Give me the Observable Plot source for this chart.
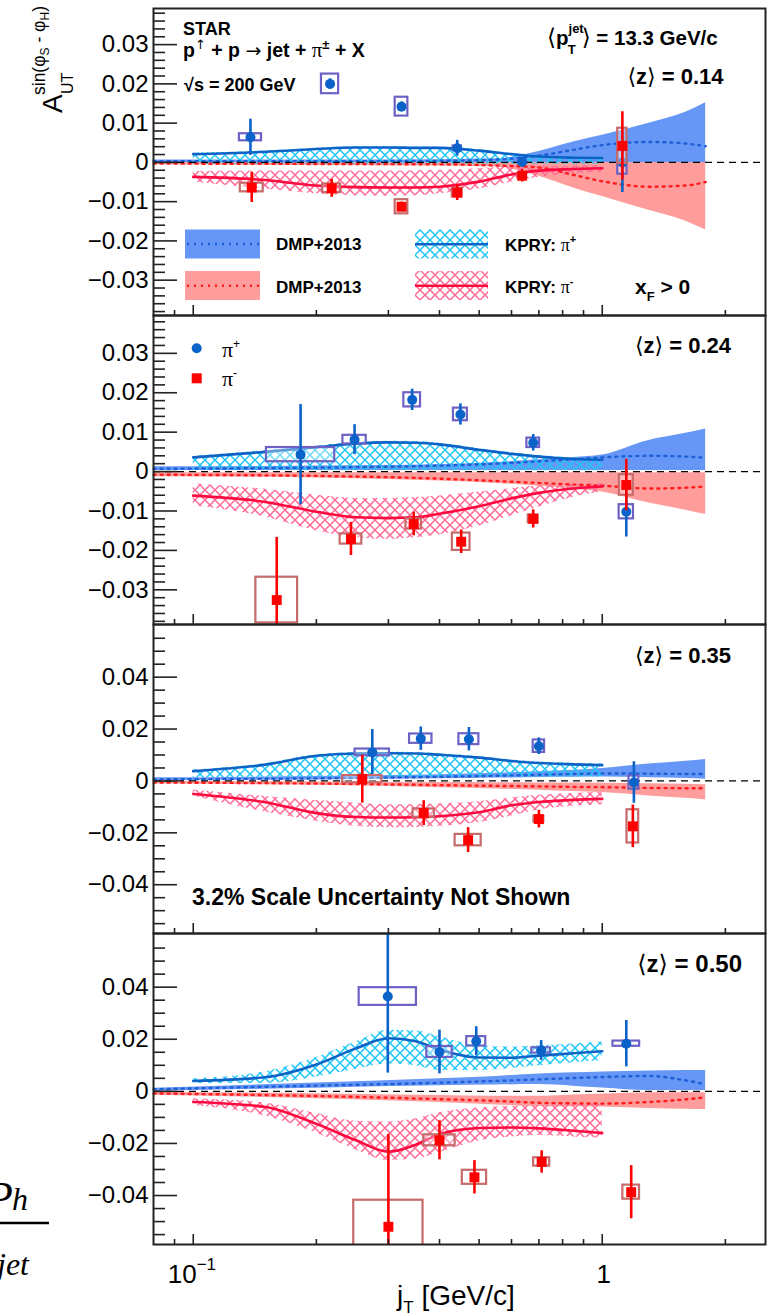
<!DOCTYPE html>
<html>
<head>
<meta charset="utf-8">
<script src="https://cdn.jsdelivr.net/npm/d3@7"></script>
<script src="https://cdn.jsdelivr.net/npm/@observablehq/plot@0.6"></script>
<style>
  body { margin: 0; background: #fff; }
  #fig { position: relative; width: 775px; height: 1316px; overflow: hidden; background: #fff; }
  #fig svg.panel { position: absolute; left: 0; }
  #fig text { white-space: pre; }
</style>
</head>
<body>
<div id="fig"></div>
<script>
// ---------- shared sampling grids for the model curves (j_T in GeV/c) ----------
const kpryJt = [0.1, 0.15, 0.2, 0.25, 0.3, 0.35, 0.4, 0.5, 0.6, 0.7, 0.85, 1.0];
const dmpJt  = [0.08, 0.2, 0.4, 0.55, 0.7, 0.85, 1.0, 1.3, 1.6, 1.79];

// ---------- axis ticks ----------
const yTicksSmall = [-0.03, -0.02, -0.01, 0, 0.01, 0.02, 0.03];
const yTickLabelsSmall = ["\u22120.03", "\u22120.02", "\u22120.01", "0", "0.01", "0.02", "0.03"];
const yTicksLarge = [-0.04, -0.02, 0, 0.02, 0.04];
const yTickLabelsLarge = ["\u22120.04", "\u22120.02", "0", "0.02", "0.04"];
const xTicksMajor = [0.1, 1];
const xTicksMinor = [0.09, 0.2, 0.3, 0.4, 0.5, 0.6, 0.7, 0.8, 0.9, 2];

// ================= <z> = 0.14 =================
const z014PlusJt    = [0.138, 0.216, 0.323, 0.442, 0.637, 1.12];
const z014PlusA     = [0.0064, 0.0200, 0.0142, 0.0036, 0.0001, 0.0000];
const z014PlusStat  = [0.0046, 0.0013, 0.0012, 0.0020, 0.0012, 0.0077];
const z014PlusSys   = [0.0009, 0.0025, 0.0024, 0.0006, 0.0005, 0.0030];
const z014PlusJtSys = [0.027, 0.021, 0.0155, 0.010, 0.008, 0.0114];   // log10 half-width
const z014MinusJt    = [0.139, 0.218, 0.323, 0.442, 0.637, 1.12];
const z014MinusA     = [-0.0064, -0.0066, -0.0113, -0.0077, -0.0034, 0.0042];
const z014MinusStat  = [0.0038, 0.0023, 0.0012, 0.0020, 0.0016, 0.0087];
const z014MinusSys   = [0.0011, 0.0011, 0.0018, 0.0011, 0.0006, 0.0045];
const z014MinusJtSys = [0.028, 0.022, 0.0155, 0.012, 0.010, 0.0114];
const z014KpryPlusMid  = [0.0021, 0.0027, 0.0034, 0.0038, 0.0038, 0.0037, 0.0037, 0.0030, 0.0021, 0.0015, 0.0012, 0.0011];
const z014KpryPlusHi   = [0.0023, 0.0029, 0.0036, 0.0040, 0.0040, 0.0039, 0.0039, 0.0032, 0.0023, 0.0017, 0.0014, 0.0013];
const z014KpryPlusLo   = [-0.0005, -0.0005, -0.0005, -0.0005, -0.0005, -0.0005, -0.0005, -0.0005, -0.0005, -0.0005, -0.0005, -0.0005];
const z014KpryMinusMid = [-0.0037, -0.0045, -0.0059, -0.0063, -0.0064, -0.0064, -0.0062, -0.0049, -0.0031, -0.0021, -0.0017, -0.0015];
const z014KpryMinusHi  = [-0.0023, -0.0022, -0.0022, -0.0022, -0.0022, -0.0021, -0.0020, -0.0016, -0.0011, -0.0010, -0.0009, -0.0008];
const z014KpryMinusLo  = [-0.0050, -0.0068, -0.0080, -0.0085, -0.0086, -0.0085, -0.0080, -0.0068, -0.0050, -0.0038, -0.0030, -0.0025];
const z014DmpPlusLo   = [0, 0, 0, 0, 0, 0, 0, 0, 0, 0];
const z014DmpPlusMid  = [0.0003, 0.0003, 0.0004, 0.0007, 0.0017, 0.0032, 0.0044, 0.0052, 0.0048, 0.0041];
const z014DmpPlusHi   = [0.0006, 0.0006, 0.0007, 0.0009, 0.0028, 0.0052, 0.0069, 0.0100, 0.0128, 0.0152];
const z014DmpMinusHi  = [0, 0, 0, 0, 0, 0, 0, 0, 0, 0];
const z014DmpMinusMid = [-0.0003, -0.0004, -0.0005, -0.0008, -0.0013, -0.0032, -0.0048, -0.0062, -0.0059, -0.0050];
const z014DmpMinusLo  = [-0.0006, -0.0008, -0.0009, -0.0012, -0.0035, -0.0065, -0.0087, -0.0122, -0.0150, -0.0172];

// ================= <z> = 0.24 =================
const z024PlusJt    = [0.183, 0.248, 0.343, 0.450, 0.678, 1.145];
const z024PlusA     = [0.0043, 0.0081, 0.0182, 0.0145, 0.0073, -0.0102];
const z024PlusStat  = [0.0127, 0.0038, 0.0027, 0.0027, 0.0021, 0.0064];
const z024PlusSys   = [0.0018, 0.0011, 0.0018, 0.0016, 0.0012, 0.0018];
const z024PlusJtSys = [0.0835, 0.0285, 0.0204, 0.017, 0.0155, 0.0175];
const z024MinusJt    = [0.160, 0.243, 0.346, 0.452, 0.678, 1.145];
const z024MinusA     = [-0.0326, -0.0171, -0.0133, -0.0178, -0.0120, -0.0034];
const z024MinusStat  = [0.0159, 0.0042, 0.0030, 0.0030, 0.0023, 0.0065];
const z024MinusSys   = [0.0058, 0.0013, 0.0013, 0.0022, 0.0010, 0.0026];
const z024MinusJtSys = [0.051, 0.0265, 0.019, 0.0216, 0.012, 0.017];
const z024KpryPlusMid  = [0.0036, 0.0050, 0.0062, 0.0071, 0.0074, 0.0073, 0.0069, 0.0055, 0.0045, 0.0038, 0.0032, 0.0030];
const z024KpryPlusHi   = [0.0039, 0.0053, 0.0065, 0.0074, 0.0077, 0.0076, 0.0072, 0.0058, 0.0048, 0.0041, 0.0035, 0.0033];
const z024KpryPlusLo   = [0.0003, 0.0003, 0.0003, 0.0003, 0.0003, 0.0003, 0.0003, 0.0003, 0.0003, 0.0003, 0.0003, 0.0003];
const z024KpryMinusMid = [-0.0061, -0.0077, -0.0102, -0.0116, -0.0118, -0.0116, -0.0107, -0.0088, -0.0068, -0.0054, -0.0043, -0.0038];
const z024KpryMinusHi  = [-0.0031, -0.0045, -0.0060, -0.0068, -0.0068, -0.0066, -0.0062, -0.0052, -0.0043, -0.0036, -0.0032, -0.0030];
const z024KpryMinusLo  = [-0.0086, -0.0115, -0.0150, -0.0168, -0.0172, -0.0168, -0.0160, -0.0138, -0.0112, -0.0090, -0.0065, -0.0052];
const z024DmpPlusLo   = [0.0003, 0.0003, 0.0003, 0.0003, 0.0003, 0.0003, 0.0003, 0.0003, 0.0003, 0.0003];
const z024DmpPlusMid  = [0.0007, 0.0010, 0.0015, 0.0020, 0.0026, 0.0031, 0.0036, 0.0040, 0.0038, 0.0035];
const z024DmpPlusHi   = [0.0012, 0.0014, 0.0018, 0.0023, 0.0030, 0.0036, 0.0042, 0.0079, 0.0097, 0.0108];
const z024DmpMinusHi  = [-0.0003, -0.0003, -0.0003, -0.0003, -0.0003, -0.0003, -0.0003, -0.0003, -0.0003, -0.0003];
const z024DmpMinusMid = [-0.0008, -0.0011, -0.0018, -0.0024, -0.0029, -0.0033, -0.0036, -0.0043, -0.0041, -0.0038];
const z024DmpMinusLo  = [-0.0013, -0.0016, -0.0024, -0.0030, -0.0037, -0.0044, -0.0052, -0.0080, -0.0098, -0.0109];

// ================= <z> = 0.35 =================
const z035PlusJt    = [0.274, 0.360, 0.472, 0.700, 1.195];
const z035PlusA     = [0.0110, 0.0163, 0.0161, 0.0134, -0.0006];
const z035PlusStat  = [0.0088, 0.0045, 0.0045, 0.0032, 0.0080];
const z035PlusSys   = [0.0013, 0.0018, 0.0021, 0.0024, 0.0026];
const z035PlusJtSys = [0.042, 0.0274, 0.0244, 0.0139, 0.012];
const z035MinusJt    = [0.259, 0.366, 0.470, 0.700, 1.188];
const z035MinusA     = [0.0007, -0.0124, -0.0228, -0.0147, -0.0175];
const z035MinusStat  = [0.0092, 0.0048, 0.0048, 0.0034, 0.0082];
const z035MinusSys   = [0.0014, 0.0016, 0.0022, 0.0012, 0.0064];
const z035MinusJtSys = [0.048, 0.026, 0.0318, 0.012, 0.0143];
const z035KpryPlusMid  = [0.0038, 0.0063, 0.0097, 0.0106, 0.0107, 0.0106, 0.0101, 0.0090, 0.0077, 0.0069, 0.0064, 0.0061];
const z035KpryPlusHi   = [0.0042, 0.0067, 0.0101, 0.0110, 0.0111, 0.0110, 0.0105, 0.0094, 0.0081, 0.0073, 0.0068, 0.0065];
const z035KpryPlusLo   = [0.0012, 0.0014, 0.0015, 0.0015, 0.0015, 0.0015, 0.0015, 0.0015, 0.0015, 0.0015, 0.0015, 0.0015];
const z035KpryMinusMid = [-0.0050, -0.0082, -0.0124, -0.0139, -0.0141, -0.0140, -0.0136, -0.0121, -0.0094, -0.0081, -0.0073, -0.0069];
const z035KpryMinusHi  = [-0.0035, -0.0060, -0.0075, -0.0085, -0.0092, -0.0091, -0.0088, -0.0080, -0.0066, -0.0055, -0.0048, -0.0044];
const z035KpryMinusLo  = [-0.0058, -0.0120, -0.0155, -0.0175, -0.0180, -0.0179, -0.0175, -0.0160, -0.0135, -0.0112, -0.0098, -0.0092];
const z035DmpPlusLo   = [0.0002, 0.0004, 0.0008, 0.0011, 0.0013, 0.0014, 0.0015, 0.0012, 0.0009, 0.0007];
const z035DmpPlusMid  = [0.0006, 0.0010, 0.0016, 0.0020, 0.0024, 0.0027, 0.0029, 0.0028, 0.0027, 0.0027];
const z035DmpPlusHi   = [0.0012, 0.0017, 0.0024, 0.0030, 0.0035, 0.0041, 0.0048, 0.0065, 0.0076, 0.0083];
const z035DmpMinusHi  = [-0.0002, -0.0004, -0.0006, -0.0007, -0.0008, -0.0008, -0.0009, -0.0011, -0.0013, -0.0015];
const z035DmpMinusMid = [-0.0006, -0.0010, -0.0016, -0.0019, -0.0021, -0.0023, -0.0024, -0.0027, -0.0028, -0.0028];
const z035DmpMinusLo  = [-0.0012, -0.0017, -0.0026, -0.0031, -0.0036, -0.0041, -0.0045, -0.0058, -0.0067, -0.0073];

// ================= <z> = 0.50 =================
const z050PlusJt    = [0.299, 0.400, 0.492, 0.709, 1.145];
const z050PlusA     = [0.0364, 0.0151, 0.0192, 0.0157, 0.0183];
const z050PlusStat  = [0.0294, 0.0084, 0.0056, 0.0038, 0.0089];
const z050PlusSys   = [0.0034, 0.0021, 0.0018, 0.0010, 0.0010];
const z050PlusJtSys = [0.070, 0.031, 0.0232, 0.0228, 0.0326];
const z050MinusJt    = [0.300, 0.400, 0.487, 0.711, 1.177];
const z050MinusA     = [-0.0520, -0.0188, -0.0330, -0.0271, -0.0387];
const z050MinusStat  = [0.0355, 0.0075, 0.0064, 0.0043, 0.0102];
const z050MinusSys   = [0.0102, 0.0021, 0.0027, 0.0016, 0.0027];
const z050MinusJtSys = [0.0847, 0.0383, 0.0297, 0.0196, 0.0204];
const z050KpryPlusMid  = [0.0040, 0.0054, 0.0103, 0.0165, 0.0204, 0.0192, 0.0160, 0.0130, 0.0129, 0.0137, 0.0146, 0.0154];
const z050KpryPlusHi   = [0.0048, 0.0075, 0.0130, 0.0190, 0.0235, 0.0232, 0.0210, 0.0175, 0.0170, 0.0175, 0.0182, 0.0189];
const z050KpryPlusLo   = [0.0030, 0.0030, 0.0055, 0.0085, 0.0105, 0.0098, 0.0080, 0.0080, 0.0088, 0.0098, 0.0110, 0.0117];
const z050KpryMinusMid = [-0.0041, -0.0060, -0.0125, -0.0188, -0.0232, -0.0205, -0.0165, -0.0141, -0.0139, -0.0142, -0.0151, -0.0160];
const z050KpryMinusHi  = [-0.0028, -0.0045, -0.0085, -0.0115, -0.0118, -0.0105, -0.0082, -0.0064, -0.0058, -0.0055, -0.0052, -0.0050];
const z050KpryMinusLo  = [-0.0054, -0.0095, -0.0160, -0.0225, -0.0265, -0.0260, -0.0235, -0.0190, -0.0175, -0.0170, -0.0175, -0.0180];
const z050DmpPlusLo   = [0.0000, 0.0012, 0.0021, 0.0024, 0.0026, 0.0020, 0.0013, 0.0003, 0.0003, 0.0003];
const z050DmpPlusMid  = [0.0008, 0.0022, 0.0033, 0.0040, 0.0046, 0.0051, 0.0055, 0.0059, 0.0042, 0.0027];
const z050DmpPlusHi   = [0.0012, 0.0032, 0.0048, 0.0057, 0.0067, 0.0071, 0.0074, 0.0078, 0.0080, 0.0080];
const z050DmpMinusHi  = [-0.0003, -0.0009, -0.0016, -0.0019, -0.0019, -0.0014, -0.0010, -0.0005, -0.0005, -0.0005];
const z050DmpMinusMid = [-0.0008, -0.0018, -0.0030, -0.0037, -0.0044, -0.0046, -0.0047, -0.0041, -0.0031, -0.0023];
const z050DmpMinusLo  = [-0.0015, -0.0028, -0.0043, -0.0052, -0.0058, -0.0059, -0.0060, -0.0066, -0.0069, -0.0070];

// ---------- styling ----------
const SANS = "'Liberation Sans', Arial, Helvetica, sans-serif";
const SERIF = "'Liberation Serif', 'DejaVu Serif', serif";
const SYMB = "'DejaVu Sans', sans-serif";
const C = {
  plus: "#0b63c9", minus: "#ff0000",
  plusBox: "#6c62c6", minusBox: "#c66a6a",
  dmpBlueFill: "#6697f6", dmpRedFill: "#ff9d9d",
  dmpBlueLine: "#1d5fd6", dmpRedLine: "#ff1c1c",
  kpryPlusLine: "#0d62c6", kpryMinusLine: "#ff0a40",
  hatchCyan: "#1fc6f5", hatchPink: "#ff6a96", frame: "#222"
};
const DOTS = "2,5";
const X_DOMAIN = [0.07995, 2.507];

// ---------- helpers ----------
const band = (xs, lo, mid, hi) => xs.map((x, i) => ({x, lo: lo[i], mid: mid[i], hi: hi[i]}));
const points = (jt, a, stat, sys, jtSys) => jt.map((x, i) => ({
  x, a: a[i], e1: a[i] - stat[i], e2: a[i] + stat[i],
  s1: a[i] - sys[i], s2: a[i] + sys[i],
  x1: x / 10 ** jtSys[i], x2: x * 10 ** jtSys[i]
}));
const minorSmall = d3.range(-19, 20).filter(i => i % 5 !== 0).map(i => i * 0.002);
const minorLarge = d3.range(-11, 12).filter(i => i % 4 !== 0).map(i => i * 0.005);

const fig = d3.select("#fig");

// crosshatch fills for the KPRY bands
const defs = fig.append("svg").attr("width", 0).attr("height", 0)
  .style("position", "absolute").append("defs");
function hatch(id, color) {
  const p = defs.append("pattern").attr("id", id).attr("patternUnits", "userSpaceOnUse")
    .attr("width", 10).attr("height", 10);
  p.append("path").attr("d", "M-1,-1L11,11M11,-1L-1,11")
    .attr("stroke", color).attr("stroke-width", 1.5).attr("fill", "none");
}
hatch("hatchCyan", C.hatchCyan);
hatch("hatchPink", C.hatchPink);

function label(svg, x, y, spans, attrs = {}) {
  const t = d3.select(svg).append("text").attr("x", x).attr("y", y)
    .attr("text-anchor", "start")
    .attr("font-family", SANS).attr("font-weight", "bold").attr("font-size", 18)
    .attr("fill", "#000").style("white-space", "pre");
  for (const [k, v] of Object.entries(attrs)) t.attr(k, v);
  for (const s of spans) {
    const ts = t.append("tspan").text(s.t);
    for (const k of ["dx", "dy", "x", "y"]) if (s[k] != null) ts.attr(k, s[k]);
    if (s.size) ts.attr("font-size", s.size);
    if (s.family) ts.attr("font-family", s.family);
    if (s.weight) ts.attr("font-weight", s.weight);
    if (s.style) ts.attr("font-style", s.style);
  }
  return t;
}

const panels = [
  {top: 0, height: 315, mt: 8, mb: 0, yDomain: [-0.039, 0.0392], ticks: yTicksSmall, tickLabels: yTickLabelsSmall, minor: minorSmall,
   plus: points(z014PlusJt, z014PlusA, z014PlusStat, z014PlusSys, z014PlusJtSys),
   minus: points(z014MinusJt, z014MinusA, z014MinusStat, z014MinusSys, z014MinusJtSys),
   kpryPlus: band(kpryJt, z014KpryPlusLo, z014KpryPlusMid, z014KpryPlusHi),
   kpryMinus: band(kpryJt, z014KpryMinusLo, z014KpryMinusMid, z014KpryMinusHi),
   dmpPlus: band(dmpJt, z014DmpPlusLo, z014DmpPlusMid, z014DmpPlusHi),
   dmpMinus: band(dmpJt, z014DmpMinusLo, z014DmpMinusMid, z014DmpMinusHi)},
  {top: 315, height: 309, mt: 0, mb: 0, yDomain: [-0.0388, 0.0396], ticks: yTicksSmall, tickLabels: yTickLabelsSmall, minor: minorSmall,
   plus: points(z024PlusJt, z024PlusA, z024PlusStat, z024PlusSys, z024PlusJtSys),
   minus: points(z024MinusJt, z024MinusA, z024MinusStat, z024MinusSys, z024MinusJtSys),
   kpryPlus: band(kpryJt, z024KpryPlusLo, z024KpryPlusMid, z024KpryPlusHi),
   kpryMinus: band(kpryJt, z024KpryMinusLo, z024KpryMinusMid, z024KpryMinusHi),
   dmpPlus: band(dmpJt, z024DmpPlusLo, z024DmpPlusMid, z024DmpPlusHi),
   dmpMinus: band(dmpJt, z024DmpMinusLo, z024DmpMinusMid, z024DmpMinusHi)},
  {top: 624, height: 309, mt: 0, mb: 0, yDomain: [-0.0588, 0.0603], ticks: yTicksLarge, tickLabels: yTickLabelsLarge, minor: minorLarge,
   plus: points(z035PlusJt, z035PlusA, z035PlusStat, z035PlusSys, z035PlusJtSys),
   minus: points(z035MinusJt, z035MinusA, z035MinusStat, z035MinusSys, z035MinusJtSys),
   kpryPlus: band(kpryJt, z035KpryPlusLo, z035KpryPlusMid, z035KpryPlusHi),
   kpryMinus: band(kpryJt, z035KpryMinusLo, z035KpryMinusMid, z035KpryMinusHi),
   dmpPlus: band(dmpJt, z035DmpPlusLo, z035DmpPlusMid, z035DmpPlusHi),
   dmpMinus: band(dmpJt, z035DmpMinusLo, z035DmpMinusMid, z035DmpMinusHi)},
  {top: 933, height: 383, mt: 0, mb: 72, yDomain: [-0.0588, 0.0606], ticks: yTicksLarge, tickLabels: yTickLabelsLarge, minor: minorLarge,
   plus: points(z050PlusJt, z050PlusA, z050PlusStat, z050PlusSys, z050PlusJtSys),
   minus: points(z050MinusJt, z050MinusA, z050MinusStat, z050MinusSys, z050MinusJtSys),
   kpryPlus: band(kpryJt, z050KpryPlusLo, z050KpryPlusMid, z050KpryPlusHi),
   kpryMinus: band(kpryJt, z050KpryMinusLo, z050KpryMinusMid, z050KpryMinusHi),
   dmpPlus: band(dmpJt, z050DmpPlusLo, z050DmpPlusMid, z050DmpPlusHi),
   dmpMinus: band(dmpJt, z050DmpMinusLo, z050DmpMinusMid, z050DmpMinusHi)}
];

function buildPanel(p) {
  const curve = "monotone-x";
  const svg = Plot.plot({
    width: 775, height: p.height,
    marginLeft: 153, marginRight: 10, marginTop: p.mt, marginBottom: p.mb,
    style: {background: "none", overflow: "visible", fontFamily: SANS, color: "#000"},
    x: {type: "log", domain: X_DOMAIN},
    y: {domain: p.yDomain},
    marks: [
      // DMP+2013 bands
      Plot.areaY(p.dmpPlus, {x: "x", y1: "lo", y2: "hi", fill: C.dmpBlueFill, curve}),
      Plot.areaY(p.dmpMinus, {x: "x", y1: "lo", y2: "hi", fill: C.dmpRedFill, curve}),
      // KPRY hatched bands
      Plot.areaY(p.kpryPlus, {x: "x", y1: "lo", y2: "hi", fill: "url(#hatchCyan)", curve}),
      Plot.areaY(p.kpryMinus, {x: "x", y1: "lo", y2: "hi", fill: "url(#hatchPink)", curve}),
      // DMP central curves (dotted)
      Plot.lineY(p.dmpPlus, {x: "x", y: "mid", stroke: C.dmpBlueLine, strokeWidth: 2.4, strokeDasharray: DOTS, curve}),
      Plot.lineY(p.dmpMinus, {x: "x", y: "mid", stroke: C.dmpRedLine, strokeWidth: 2.4, strokeDasharray: DOTS, curve}),
      // KPRY central curves
      Plot.lineY(p.kpryPlus, {x: "x", y: "mid", stroke: C.kpryPlusLine, strokeWidth: 2.6, curve}),
      Plot.lineY(p.kpryMinus, {x: "x", y: "mid", stroke: C.kpryMinusLine, strokeWidth: 2.6, curve}),
      // zero reference
      Plot.ruleY([0], {stroke: "#000", strokeWidth: 1.3, strokeDasharray: "7,5"}),
      // pi+ data: systematic boxes, statistical bars, markers
      Plot.rect(p.plus, {x1: "x1", x2: "x2", y1: "s1", y2: "s2", stroke: C.plusBox, strokeWidth: 2.2, fill: "#fff", fillOpacity: 0.35, clip: true}),
      Plot.ruleX(p.plus, {x: "x", y1: "e1", y2: "e2", stroke: C.plus, strokeWidth: 2.6, clip: true}),
      Plot.dot(p.plus, {x: "x", y: "a", r: 5, fill: C.plus, symbol: "circle"}),
      // pi- data
      Plot.rect(p.minus, {x1: "x1", x2: "x2", y1: "s1", y2: "s2", stroke: C.minusBox, strokeWidth: 2.2, fill: "#fff", fillOpacity: 0.35, clip: true}),
      Plot.ruleX(p.minus, {x: "x", y1: "e1", y2: "e2", stroke: C.minus, strokeWidth: 2.6, clip: true}),
      Plot.dot(p.minus, {x: "x", y: "a", r: 5.6, fill: C.minus, symbol: "square"}),
      // inward ticks
      Plot.axisY({ticks: p.ticks, tickSize: -24, tickFormat: () => "", label: null, strokeWidth: 1.6, stroke: C.frame}),
      Plot.axisY({ticks: p.minor, tickSize: -12, tickFormat: () => "", label: null, strokeWidth: 1.6, stroke: C.frame}),
      Plot.axisY({ticks: p.ticks, tickSize: 0, tickPadding: 5, label: null, fontSize: 24,
                  tickFormat: d => p.tickLabels[p.ticks.indexOf(d)]}),
      Plot.axisX({ticks: xTicksMajor, tickSize: -10, tickFormat: () => "", label: null, strokeWidth: 1.6, stroke: C.frame}),
      Plot.axisX({ticks: xTicksMinor, tickSize: -5, tickFormat: () => "", label: null, strokeWidth: 1.6, stroke: C.frame}),
      Plot.frame({stroke: C.frame, strokeWidth: 2})
    ]
  });
  svg.classList.add("panel");
  svg.style.top = p.top + "px";
  fig.node().append(svg);
  return svg;
}

const svgs = panels.map(buildPanel);
const [s1, s2, s3, s4] = svgs;

const zLabel = value => [
  {t: "\u27e8", family: SYMB, weight: "normal"}, {t: "z"},
  {t: "\u27e9", family: SYMB, weight: "normal"}, {t: " = " + value}
];

// ---------- panel 1 annotations ----------
label(s1, 183, 35, [{t: "STAR"}]);
label(s1, 183, 57, [
  {t: "p"}, {t: "\u2191", size: 13, dy: -8, family: SYMB, weight: "normal"},
  {t: " + p ", dy: 8}, {t: "\u2192", family: SYMB, weight: "normal", size: 19},
  {t: " jet + "}, {t: "\u03c0", family: SERIF, weight: "normal", size: 21},
  {t: "\u00b1", size: 13, dy: -8}, {t: " + X", dy: 8}
], {"font-size": 19.5});
label(s1, 184, 90.5, [{t: "\u221as = 200 GeV"}]);
label(s1, 547, 45, [
  {t: "\u27e8", family: SYMB, weight: "normal", size: 23},
  {t: "p", size: 20.5}, {t: "jet", size: 13, dy: -12},
  {t: "T", size: 13, dx: -16, dy: 21}, {t: "\u27e9", family: SYMB, weight: "normal", size: 23, dx: 6, dy: -9},
  {t: " = 13.3 GeV/c", size: 20.5}
]);
label(s1, 723.5, 83.5, zLabel("0.14"), {"text-anchor": "end", "font-size": 22});

// legend
const L1 = d3.select(s1);
L1.append("rect").attr("x", 185).attr("y", 229.5).attr("width", 75).attr("height", 29).attr("fill", C.dmpBlueFill);
L1.append("line").attr("x1", 187).attr("x2", 259).attr("y1", 244).attr("y2", 244)
  .attr("stroke", C.dmpBlueLine).attr("stroke-width", 2.4).attr("stroke-dasharray", DOTS);
label(s1, 276, 250, [{t: "DMP+2013"}], {"font-size": 17});
L1.append("rect").attr("x", 185).attr("y", 271).attr("width", 75).attr("height", 29).attr("fill", C.dmpRedFill);
L1.append("line").attr("x1", 187).attr("x2", 259).attr("y1", 285.7).attr("y2", 285.7)
  .attr("stroke", C.dmpRedLine).attr("stroke-width", 2.4).attr("stroke-dasharray", DOTS);
label(s1, 276, 292.7, [{t: "DMP+2013"}], {"font-size": 17});
L1.append("rect").attr("x", 415).attr("y", 229.5).attr("width", 73).attr("height", 29).attr("fill", "url(#hatchCyan)");
L1.append("line").attr("x1", 415).attr("x2", 488).attr("y1", 244.3).attr("y2", 244.3)
  .attr("stroke", C.kpryPlusLine).attr("stroke-width", 2.6);
label(s1, 505, 250.7, [{t: "KPRY: "}, {t: "\u03c0", family: SERIF, weight: "normal", size: 18}, {t: "+", size: 11, dy: -8}], {"font-size": 17});
L1.append("rect").attr("x", 415).attr("y", 271).attr("width", 73).attr("height", 29).attr("fill", "url(#hatchPink)");
L1.append("line").attr("x1", 415).attr("x2", 488).attr("y1", 285.7).attr("y2", 285.7)
  .attr("stroke", C.kpryMinusLine).attr("stroke-width", 2.6);
label(s1, 505, 292.7, [{t: "KPRY: "}, {t: "\u03c0", family: SERIF, weight: "normal", size: 18}, {t: "-", size: 11, dy: -8}], {"font-size": 17});
label(s1, 635, 293.5, [{t: "x"}, {t: "F", size: 13, dy: 7}, {t: " > 0", dy: -7}], {"font-size": 21});

// y-axis title
const yt = d3.select(s1).append("text").attr("transform", "translate(62,113) rotate(-90)")
  .attr("text-anchor", "start")
  .attr("font-family", SANS).attr("font-size", 28).style("white-space", "pre");
yt.append("tspan").text("A");
yt.append("tspan").attr("x", 19).attr("y", 11).attr("font-size", 16).text("UT");
yt.append("tspan").attr("x", 18).attr("y", -17).attr("font-size", 17.5).text("sin(\u03c6");
yt.append("tspan").attr("dy", 4).attr("font-size", 12).text("S");
yt.append("tspan").attr("dy", -4).attr("font-size", 17.5).text(" - \u03c6");
yt.append("tspan").attr("dy", 4).attr("font-size", 12).text("H");
yt.append("tspan").attr("dy", -4).attr("font-size", 17.5).text(")");

// ---------- panel 2 annotations ----------
const L2 = d3.select(s2);
L2.append("circle").attr("cx", 196.7).attr("cy", 33.3).attr("r", 5).attr("fill", C.plus);
label(s2, 222, 41.7, [{t: "\u03c0", family: SERIF, weight: "normal", size: 22}, {t: "+", size: 12, dy: -9, weight: "normal"}]);
L2.append("rect").attr("x", 191.7).attr("y", 58.3).attr("width", 10).attr("height", 10).attr("fill", C.minus);
label(s2, 222, 71, [{t: "\u03c0", family: SERIF, weight: "normal", size: 22}, {t: "-", size: 12, dy: -9, weight: "normal"}]);
label(s2, 731, 37.7, zLabel("0.24"), {"text-anchor": "end", "font-size": 22});

// ---------- panel 3 annotations ----------
label(s3, 731, 39.3, zLabel("0.35"), {"text-anchor": "end", "font-size": 22});
label(s3, 192, 281, [{t: "3.2% Scale Uncertainty Not Shown"}], {"font-size": 23});

// ---------- panel 4 annotations and x axis ----------
label(s4, 742, 38.7, zLabel("0.50"), {"text-anchor": "end", "font-size": 24});
const xs = s4.scale("x");
label(s4, xs.apply(0.1) - 25, 350, [{t: "10"}, {t: "\u22121", size: 17, dy: -13}], {"font-weight": "normal", "font-size": 26});
label(s4, xs.apply(1) + 2, 350, [{t: "1"}], {"font-weight": "normal", "font-size": 26, "text-anchor": "middle"});
label(s4, 397, 372, [{t: "j"}, {t: "T", size: 17, dy: 8}, {t: " [GeV/c]", dy: -8}], {"font-weight": "normal", "font-size": 28});

// fragment of the z definition at the left edge
const F = d3.select(s4);
label(s4, -14, 279, [{t: "P"}], {"font-family": SERIF, "font-style": "italic", "font-weight": "normal", "font-size": 44});
label(s4, 12, 277, [{t: "h"}], {"font-family": SERIF, "font-style": "italic", "font-weight": "normal", "font-size": 32});
F.append("line").attr("x1", 0).attr("x2", 49).attr("y1", 290).attr("y2", 290).attr("stroke", "#000").attr("stroke-width", 2.5);
label(s4, -3, 342, [{t: "jet"}], {"font-family": SERIF, "font-style": "italic", "font-weight": "normal", "font-size": 32});
</script>
</body>
</html>
